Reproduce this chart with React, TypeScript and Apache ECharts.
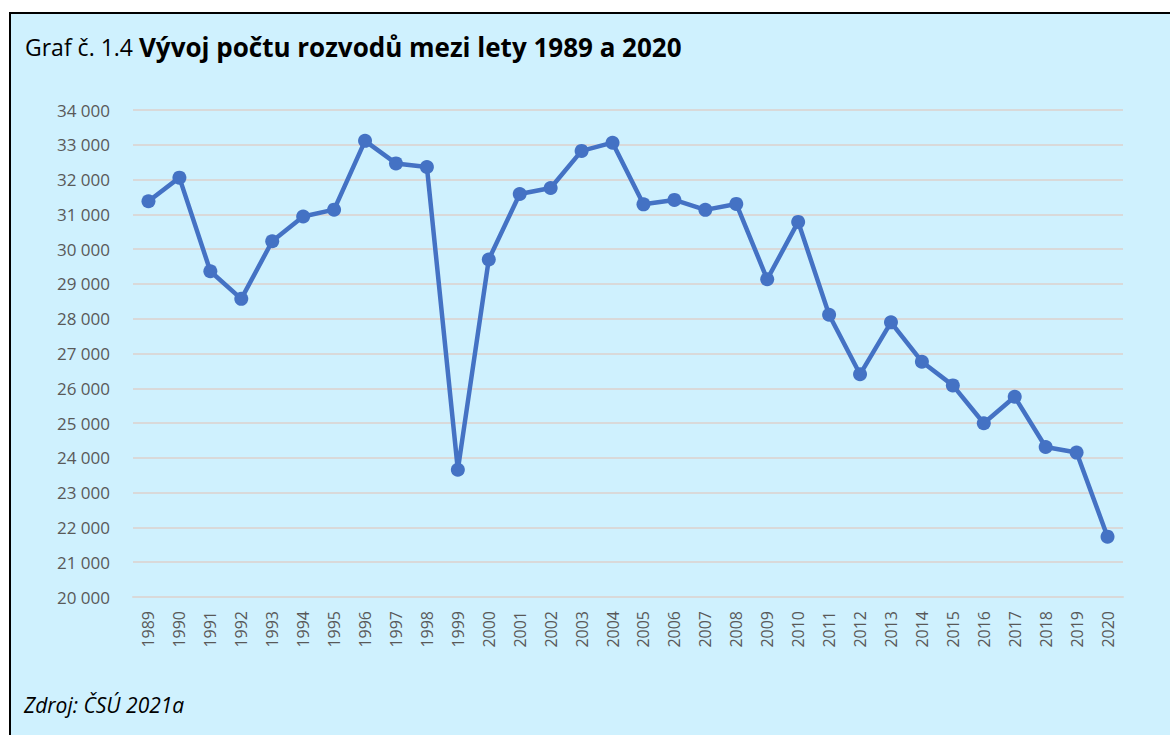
import React, { useEffect, useRef } from "react";
import * as echarts from "echarts";

const years: string[] = [
  "1989", "1990", "1991", "1992", "1993", "1994", "1995", "1996", "1997", "1998",
  "1999", "2000", "2001", "2002", "2003", "2004", "2005", "2006", "2007", "2008",
  "2009", "2010", "2011", "2012", "2013", "2014", "2015", "2016", "2017", "2018",
  "2019", "2020",
];
const divorces: number[] = [
  31376, 32055, 29366, 28572, 30227, 30939, 31135, 33113, 32465, 32363,
  23657, 29704, 31586, 31758, 32824, 33060, 31288, 31415, 31129, 31300,
  29133, 30783, 28113, 26402, 27895, 26764, 26083, 24996, 25755, 24313,
  24152, 21734,
];
const titlePrefix = "Graf č. 1.4 ";
const titleMain = "Vývoj počtu rozvodů mezi lety 1989 a 2020";
const sourceText = "Zdroj: ČSÚ 2021a";

const fmt = (v: number) => String(v).replace(/\B(?=(\d{3})+(?!\d))/g, " ");

export default function App() {
  const ref = useRef<HTMLDivElement>(null);
  useEffect(() => {
    if (!ref.current) return;
    const chart = echarts.init(ref.current, undefined, { renderer: "svg" });
    chart.setOption({
      animation: false,
      textStyle: { fontFamily: "Open Sans" },
      title: {
        left: 20,
        top: 29,
        text: `{a|${titlePrefix}}{b|${titleMain}}`,
        textStyle: {
          fontFamily: "Open Sans",
          fontSize: 23,
          color: "#000",
          rich: {
            a: { fontFamily: "Open Sans", fontSize: 23, color: "#000", fontWeight: "normal" },
            b: { fontFamily: "Open Sans", fontSize: 26, color: "#000", fontWeight: "bold" },
          },
        },
      },
      graphic: [
        {
          type: "text",
          left: 24,
          top: 694,
          style: {
            text: sourceText,
            fontFamily: "Open Sans",
            fontStyle: "italic",
            fontSize: 21,
            fill: "#000",
          },
        },
      ],
      grid: { left: 133, right: 47, top: 110, bottom: 138, containLabel: false },
      xAxis: {
        type: "category",
        data: years,
        boundaryGap: true,
        axisLine: { show: true, lineStyle: { color: "#D9D9D9", width: 2 } },
        axisTick: { show: false },
        axisLabel: {
          rotate: 90,
          margin: 14,
          color: "#595959",
          fontSize: 16,
          fontFamily: "Open Sans",
          interval: 0,
        },
      },
      yAxis: {
        type: "value",
        min: 20000,
        max: 34000,
        interval: 1000,
        axisLine: { show: false },
        axisTick: { show: false },
        splitLine: { lineStyle: { color: "#D9D9D9", width: 2 } },
        axisLabel: {
          color: "#595959",
          fontSize: 17,
          margin: 23,
          fontFamily: "Open Sans",
          formatter: (v: number) => fmt(v),
        },
      },
      series: [
        {
          type: "line",
          data: divorces,
          symbol: "circle",
          symbolSize: 14,
          lineStyle: { color: "#4472C4", width: 4.5 },
          itemStyle: { color: "#4472C4" },
        },
      ],
    });
    return () => chart.dispose();
  }, []);
  return (
    <div style={{ position: "fixed", left: 0, top: 0, width: 1170, height: 735, background: "#fff", overflow: "hidden" }}>
      <div
        style={{
          position: "absolute",
          left: 9,
          top: 12,
          width: 1200,
          height: 760,
          borderLeft: "2px solid #000",
          borderTop: "2px solid #000",
          background: "#CFF1FE",
        }}
      />
      <div ref={ref} style={{ position: "absolute", left: 0, top: 0, width: 1170, height: 735 }} />
    </div>
  );
}
